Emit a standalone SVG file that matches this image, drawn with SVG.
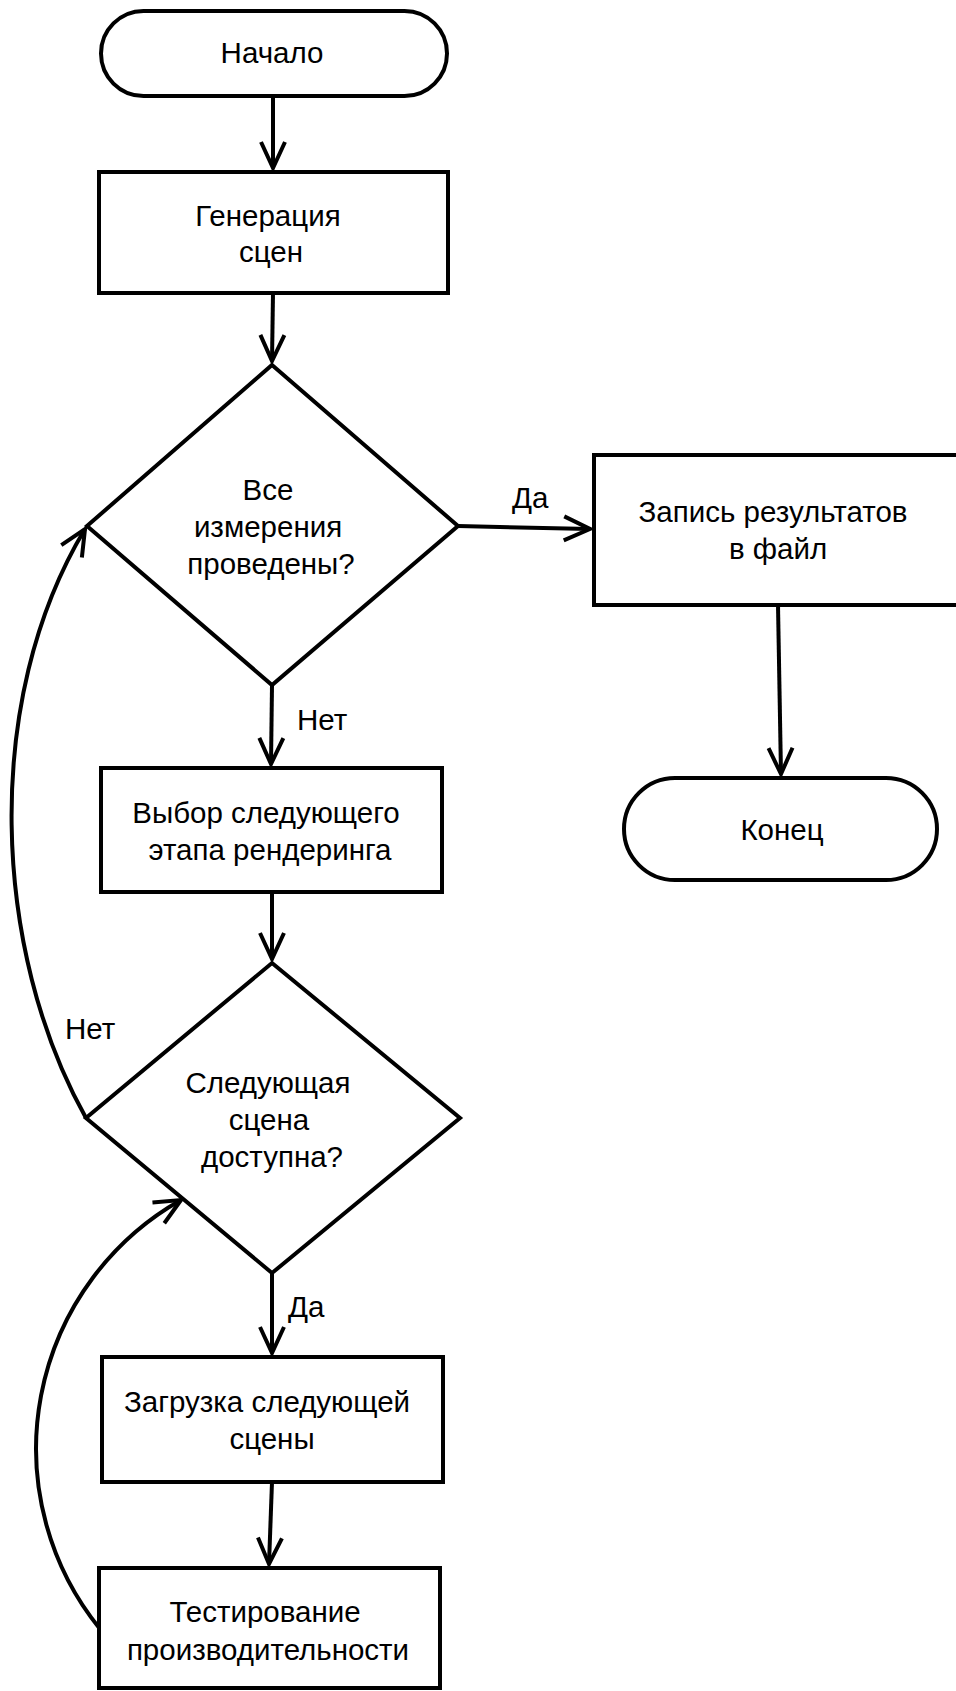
<svg xmlns="http://www.w3.org/2000/svg" width="956" height="1691" viewBox="0 0 956 1691">
  <defs>
    <style>
      .node { fill: #ffffff; stroke: #000000; stroke-width: 4; }
      .edge { fill: none; stroke: #000000; stroke-width: 4; marker-end: url(#open); }
      text { font-family: "Liberation Sans", Arial, sans-serif; font-size: 29.5px; fill: #000000; }
      .c { text-anchor: middle; }
    </style>
    <marker id="open" markerUnits="userSpaceOnUse" orient="auto" markerWidth="40" markerHeight="40" refX="0" refY="0" overflow="visible">
      <path d="M-26,-12 L0,0 L-26,12" fill="none" stroke="#000000" stroke-width="4"/>
    </marker>
  </defs>
  <rect width="956" height="1691" fill="#ffffff"/>

  <!-- connectors -->
  <g id="connectors">
    <path class="edge" d="M273,97 L273,168"/>
    <path class="edge" d="M273,293 L272,361"/>
    <path class="edge" d="M458,526 L590,529"/>
    <path class="edge" d="M778,605 L781,774"/>
    <path class="edge" d="M272,685 L271,764"/>
    <path class="edge" d="M272,892 L272,959"/>
    <path class="edge" d="M272,1273 L272,1353"/>
    <path class="edge" d="M272,1482 L269,1564"/>
    <!-- "no" loop back to the first check -->
    <path class="edge" d="M86,1118 C-8,950 -18,700 85,529"/>
    <!-- return from performance test -->
    <path class="edge" d="M100,1629 A286,286 0 0 1 181,1200"/>
    <text x="512" y="508">Да</text>
    <text x="297" y="730">Нет</text>
    <text x="65" y="1039">Нет</text>
    <text x="288" y="1317">Да</text>
  </g>

  <g id="start">
    <rect class="node" x="101" y="11" width="346" height="85" rx="42.5"/>
    <text class="c" x="272" y="63">Начало</text>
  </g>

  <g id="generate">
    <rect class="node" x="99" y="172" width="349" height="121"/>
    <text class="c" x="268" y="226">Генерация</text>
    <text class="c" x="271" y="262">сцен</text>
  </g>

  <g id="all-done">
    <polygon class="node" points="272,365 458,526 272,685 87,526"/>
    <text class="c" x="268" y="500">Все</text>
    <text class="c" x="268" y="537">измерения</text>
    <text class="c" x="271" y="574">проведены?</text>
  </g>

  <g id="write-results">
    <rect class="node" x="594" y="455" width="400" height="150"/>
    <text class="c" x="773" y="522">Запись результатов</text>
    <text class="c" x="778" y="559">в файл</text>
  </g>

  <g id="end">
    <rect class="node" x="624" y="778" width="313" height="102" rx="51"/>
    <text class="c" x="782" y="840">Конец</text>
  </g>

  <g id="select-stage">
    <rect class="node" x="101" y="768" width="341" height="124"/>
    <text class="c" x="266" y="823">Выбор следующего</text>
    <text class="c" x="270" y="860">этапа рендеринга</text>
  </g>

  <g id="scene-available">
    <polygon class="node" points="272,963 460,1118 272,1273 86,1118"/>
    <text class="c" x="268" y="1093">Следующая</text>
    <text class="c" x="269" y="1130">сцена</text>
    <text class="c" x="272" y="1167">доступна?</text>
  </g>

  <g id="load-scene">
    <rect class="node" x="102" y="1357" width="341" height="125"/>
    <text class="c" x="267" y="1412">Загрузка следующей</text>
    <text class="c" x="272" y="1449">сцены</text>
  </g>

  <g id="perf-test">
    <rect class="node" x="99" y="1568" width="341" height="120"/>
    <text class="c" x="265" y="1622">Тестирование</text>
    <text class="c" x="268" y="1660">производительности</text>
  </g>
</svg>
